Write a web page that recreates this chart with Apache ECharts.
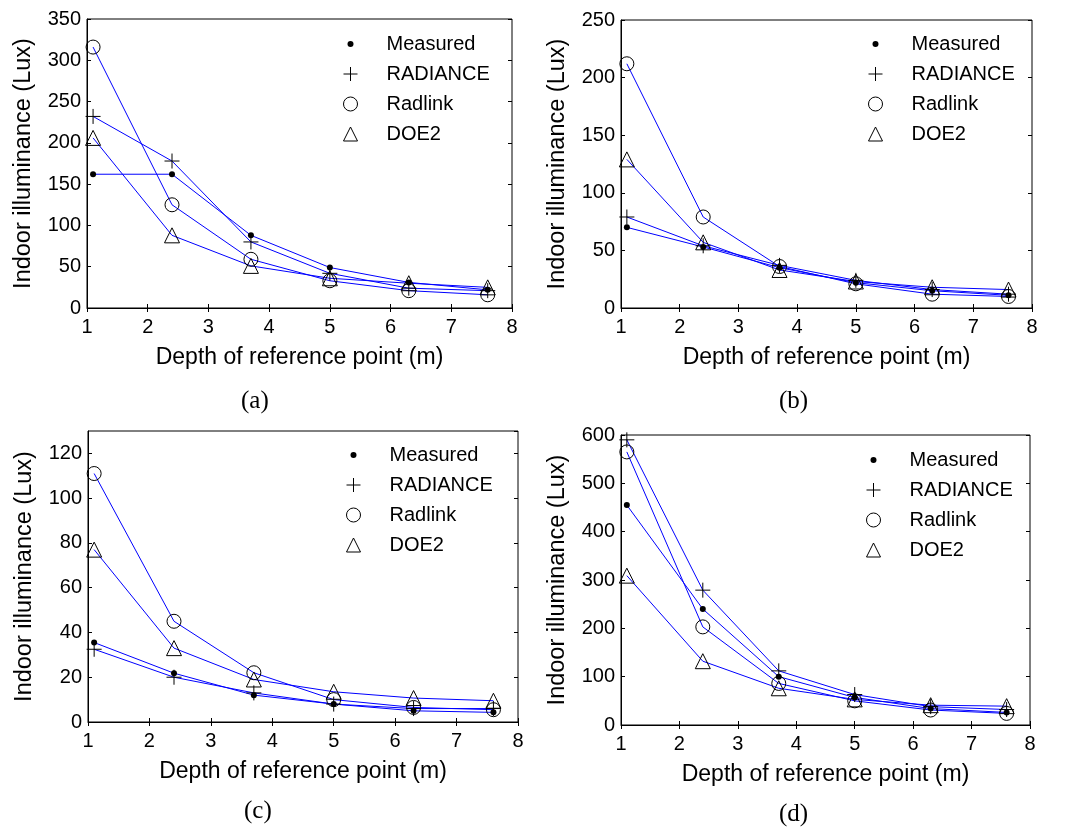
<!DOCTYPE html>
<html>
<head>
<meta charset="utf-8">
<title>Indoor illuminance vs depth</title>
<script src="https://cdn.jsdelivr.net/npm/echarts@6/dist/echarts.min.js"></script>
<style>
  html, body { margin: 0; padding: 0; background: #fff; }
  #main { width: 1069px; height: 834px; }
</style>
</head>
<body>
<div id="main"></div>
<script>
// depth of reference point (m)
var depths = [1.1, 2.4, 3.7, 5, 6.3, 7.6];
var seriesNames = ['Measured', 'RADIANCE', 'Radlink', 'DOE2'];
var panelLabels = ['(a)', '(b)', '(c)', '(d)'];
var yMax = [350, 250, 130, 600];
var yStep = [50, 50, 20, 100];

// (a)
var measuredA = [162, 162, 88, 49, 31, 22];
var radianceA = [232, 178, 80, 42, 24, 21];
var radlinkA = [316, 125, 59, 33, 21, 16];
var doe2A = [206, 88, 51, 36, 30, 25];
// (b)
var measuredB = [70, 53, 35, 22, 15, 11];
var radianceB = [79, 54, 37, 24, 16, 12];
var radlinkB = [212, 79, 36, 21, 12, 10];
var doe2B = [129, 57, 33, 23, 18, 16];
// (c)
var measuredC = [35.5, 21.8, 12, 8, 5, 4.3];
var radianceC = [32.5, 20, 13, 8, 6, 6];
var radlinkC = [111, 45, 22, 10, 6.5, 5.5];
var doe2C = [77, 33, 19, 13.5, 10.7, 9.5];
// (d)
var measuredD = [455, 240, 100, 57, 34, 26];
var radianceD = [590, 279, 112, 63, 38, 32];
var radlinkD = [565, 203, 86, 50, 31, 24];
var doe2D = [309, 132, 76, 53, 41, 39];

var panelData = [
  [measuredA, radianceA, radlinkA, doe2A],
  [measuredB, radianceB, radlinkB, doe2B],
  [measuredC, radianceC, radlinkC, doe2C],
  [measuredD, radianceD, radlinkD, doe2D]
];

var grids = [
  { left: 87, top: 19, width: 425, height: 289 },
  { left: 621, top: 20, width: 411, height: 288 },
  { left: 88, top: 431, width: 430, height: 291 },
  { left: 621, top: 435, width: 409, height: 290 }
];
var legendPos = [
  { left: 336, top: 29 },
  { left: 861, top: 29 },
  { left: 339, top: 440 },
  { left: 859, top: 445 }
];
var labelPos = [
  { left: 241, top: 389 },
  { left: 779, top: 389 },
  { left: 244, top: 799 },
  { left: 779, top: 802 }
];

var plusPath = 'path://M0,5L10,5M5,0L5,10';
// small dot inside a 14x14 box so the legend icon keeps the dot small
var dotIcon = 'path://M0,0M14,14M4,7A3,3,0,1,1,10,7A3,3,0,1,1,4,7Z';
var markerStyles = [
  { symbol: 'circle', icon: dotIcon, size: 6, item: { color: '#000', borderWidth: 0 } },
  { symbol: plusPath, icon: plusPath, size: 15, item: { color: 'none', borderColor: '#000', borderWidth: 1 } },
  { symbol: 'circle', icon: 'circle', size: 14, item: { color: 'none', borderColor: '#000', borderWidth: 1 } },
  { symbol: 'triangle', icon: 'triangle', size: 15, item: { color: 'none', borderColor: '#000', borderWidth: 1 } }
];

var font = 'Liberation Sans';
var xAxes = [], yAxes = [], series = [], legends = [], titles = [];

grids.forEach(function (g, i) {
  g.show = true;
  g.borderColor = '#000';
  g.borderWidth = 1;
  g.containLabel = false;

  xAxes.push({
    type: 'value', gridIndex: i, min: 1, max: 8, interval: 1,
    name: 'Depth of reference point (m)', nameLocation: 'middle', nameGap: 38,
    nameTextStyle: { fontFamily: font, fontSize: 23, color: '#000' },
    axisLine: { show: true, onZero: false, lineStyle: { color: '#000' } },
    axisTick: { inside: true, length: 4, lineStyle: { color: '#000' } },
    axisLabel: { fontFamily: font, fontSize: 20, color: '#000', margin: 9 },
    splitLine: { show: false }
  });
  xAxes.push({
    type: 'value', gridIndex: i, min: 1, max: 8, interval: 1, position: 'top',
    axisLine: { show: false },
    axisTick: { inside: true, length: 4, lineStyle: { color: '#000' } },
    axisLabel: { show: false },
    splitLine: { show: false }
  });
  yAxes.push({
    type: 'value', gridIndex: i, min: 0, max: yMax[i], interval: yStep[i],
    name: 'Indoor illuminance (Lux)', nameLocation: 'middle', nameGap: 51,
    nameTextStyle: { fontFamily: font, fontSize: 23.5, color: '#000' },
    axisLine: { show: true, onZero: false, lineStyle: { color: '#000' } },
    axisTick: { inside: true, length: 4, lineStyle: { color: '#000' } },
    axisLabel: { fontFamily: font, fontSize: 20, color: '#000', margin: 6, showMaxLabel: yMax[i] % yStep[i] === 0 },
    splitLine: { show: false }
  });
  yAxes.push({
    type: 'value', gridIndex: i, min: 0, max: yMax[i], interval: yStep[i], position: 'right',
    axisLine: { show: false },
    axisTick: { inside: true, length: 4, lineStyle: { color: '#000' } },
    axisLabel: { show: false },
    splitLine: { show: false }
  });

  panelData[i].forEach(function (vals, k) {
    var m = markerStyles[k];
    series.push({
      name: seriesNames[k],
      type: 'line',
      xAxisIndex: i * 2,
      yAxisIndex: i * 2,
      data: depths.map(function (d, j) { return [d, vals[j]]; }),
      symbol: m.symbol,
      symbolSize: m.size,
      showAllSymbol: true,
      itemStyle: m.item,
      lineStyle: { color: '#0000ff', width: 1 },
      emphasis: { disabled: true },
      animation: false
    });
  });

  legends.push({
    orient: 'vertical',
    left: legendPos[i].left,
    top: legendPos[i].top,
    itemWidth: 14,
    itemHeight: 14,
    itemGap: 10,
    selectedMode: false,
    textStyle: { fontFamily: font, fontSize: 20, color: '#000', lineHeight: 20, padding: [0, 0, 0, 24] },
    data: seriesNames.map(function (n, k) {
      var m = markerStyles[k];
      return {
        name: n,
        icon: m.icon,
        itemStyle: m.item
      };
    })
  });

  titles.push({
    text: panelLabels[i],
    left: labelPos[i].left,
    top: labelPos[i].top,
    padding: 0,
    textStyle: { fontFamily: 'Liberation Serif', fontSize: 25, fontWeight: 'normal', color: '#000' }
  });
});

var chart = echarts.init(document.getElementById('main'), null, { renderer: 'canvas' });
chart.setOption({
  backgroundColor: '#fff',
  animation: false,
  title: titles,
  grid: grids,
  xAxis: xAxes,
  yAxis: yAxes,
  legend: legends,
  series: series
});
</script>
</body>
</html>
